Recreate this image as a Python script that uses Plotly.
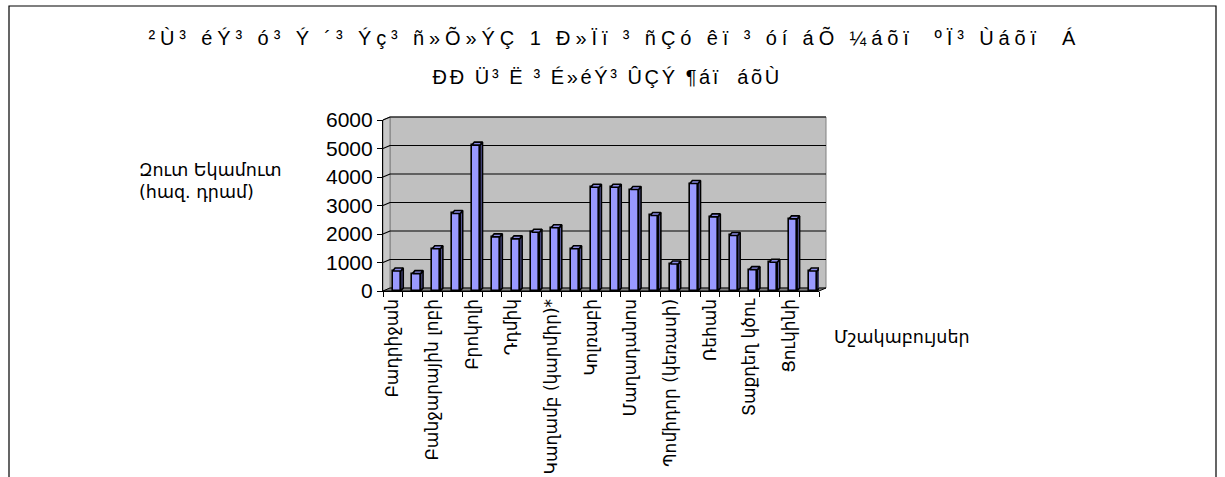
import plotly.graph_objects as go

# ---- data -------------------------------------------------------------
title_line1 = "²Ù³ éÝ³ ó³ Ý ´³ Ýç³ ñ»Õ»ÝÇ 1 Ð»Ïï ³ ñÇó êï ³ óí áÕ ¼áõï  ºÏ³ Ùáõï  Á"
title_line2 = "ÐÐ Ü³ Ë ³ É»éÝ³ ÛÇÝ ¶áï  áõÙ"
y_title = ["Զուտ Եկամուտ", "(հազ. դրամ)"]
x_title = "Մշակաբույսեր"

# every second crop carries a visible axis label
crop_labels = [
    "Բադրիջան", "Բանջարային լոբի", "Բրոկոլի", "Դդմիկ",
    "Կաղամբ (կարմիր)*", "Կոլռաբի", "Մաղադանոս", "Պոմիդոր (կեռասի)",
    "Ռեհան", "Տաքդեղ կծու", "Ցուկինի",
]
income = [700, 610, 1480, 2720, 5120, 1900, 1830, 2060, 2220, 1480, 3640,
          3640, 3560, 2650, 950, 3770, 2600, 1950, 750, 1010, 2530, 700]
y_ticks = [0, 1000, 2000, 3000, 4000, 5000, 6000]

# ---- geometry ---------------------------------------------------------
FW, FH = 1225, 477
L, R, T, B = 383, 406, 120, 186
PW, PH = FW - L - R, FH - T - B
n = len(income)
YMAX = 6000
px_x = PW / n          # pixels per category
px_y = PH / YMAX       # pixels per value unit

# 3-D look: wall depth and bar depth (pixels)
WALL_DX, WALL_DY = 7, 3
BAR_DX, BAR_DY = 2.5, 3
BAR_W = 0.41
BAR_SHIFT = 0.19

def px2paper_x(px):
    return (px - L) / PW

def px2paper_y(py):
    return (FH - B - py) / PH

def val_y(yv):
    return FH - B - yv * px_y

xs = [i + BAR_SHIFT for i in range(n)]
bdx = BAR_DX / px_x
bdy = BAR_DY / px_y

# side and top faces of each bar
side_x, side_y, top_x, top_y = [], [], [], []
for x, v in zip(xs, income):
    xl, xr = x - BAR_W / 2, x + BAR_W / 2
    side_x += [xr, xr + bdx, xr + bdx, xr, xr, None]
    side_y += [0, bdy, v + bdy, v, 0, None]
    top_x += [xl, xl + bdx, xr + bdx, xr, xl, None]
    top_y += [v, v + bdy, v + bdy, v, v, None]

fig = go.Figure()
fig.add_trace(go.Bar(
    x=xs, y=income, width=BAR_W,
    marker=dict(color="#9999FF", line=dict(color="black", width=1.6)),
    hoverinfo="skip",
))
fig.add_trace(go.Scatter(
    x=side_x, y=side_y, mode="lines", fill="toself", fillcolor="#5E5EA6",
    line=dict(color="black", width=1.6), hoverinfo="skip", cliponaxis=False,
))
fig.add_trace(go.Scatter(
    x=top_x, y=top_y, mode="lines", fill="toself", fillcolor="#8A8AE6",
    line=dict(color="black", width=1.6), hoverinfo="skip", cliponaxis=False,
))

# ---- walls, floor and grid -------------------------------------------
shapes = []
x_front_l, x_front_r = L, L + PW
y_front_0, y_front_top = val_y(0), val_y(YMAX)

def paper_path(points):
    return "M " + " L ".join(
        f"{px2paper_x(px):.5f},{px2paper_y(py):.5f}" for px, py in points) + " Z"

# back wall
shapes.append(dict(
    type="path", xref="paper", yref="paper", layer="below",
    path=paper_path([(x_front_l + WALL_DX, y_front_top - WALL_DY),
                     (x_front_r + WALL_DX, y_front_top - WALL_DY),
                     (x_front_r + WALL_DX, y_front_0 - WALL_DY),
                     (x_front_l + WALL_DX, y_front_0 - WALL_DY)]),
    fillcolor="#C0C0C0", line=dict(color="#808080", width=1),
))
# side wall
shapes.append(dict(
    type="path", xref="paper", yref="paper", layer="below",
    path=paper_path([(x_front_l, y_front_top),
                     (x_front_l + WALL_DX, y_front_top - WALL_DY),
                     (x_front_l + WALL_DX, y_front_0 - WALL_DY),
                     (x_front_l, y_front_0)]),
    fillcolor="#C8C8C8", line=dict(color="#808080", width=1),
))
# floor
shapes.append(dict(
    type="path", xref="paper", yref="paper", layer="below",
    path=paper_path([(x_front_l, y_front_0),
                     (x_front_r, y_front_0),
                     (x_front_r + WALL_DX, y_front_0 - WALL_DY),
                     (x_front_l + WALL_DX, y_front_0 - WALL_DY)]),
    fillcolor="#808080", line=dict(color="black", width=1),
))
# gridlines on side and back walls
for t in y_ticks[1:]:
    yy = val_y(t)
    shapes.append(dict(
        type="path", xref="paper", yref="paper", layer="below",
        path="M {:.5f},{:.5f} L {:.5f},{:.5f} L {:.5f},{:.5f}".format(
            px2paper_x(x_front_l), px2paper_y(yy),
            px2paper_x(x_front_l + WALL_DX), px2paper_y(yy - WALL_DY),
            px2paper_x(x_front_r + WALL_DX), px2paper_y(yy - WALL_DY)),
        line=dict(color="black", width=1.2),
    ))
# outer frame of the chart
shapes.append(dict(
    type="rect", xref="paper", yref="paper",
    x0=px2paper_x(9), x1=px2paper_x(1216),
    y0=px2paper_y(6), y1=px2paper_y(FH + 20),
    line=dict(color="black", width=1.2), fillcolor="rgba(0,0,0,0)",
))

# ---- text ------------------------------------------------------------
LATIN = "Liberation Sans, Arial, sans-serif"
ARM = "DejaVu Sans, Noto Sans, sans-serif"
annotations = [
    dict(text=title_line1, x=px2paper_x(614), y=px2paper_y(37),
         font=dict(family=LATIN, size=20, color="black")),
    dict(text=title_line2, x=px2paper_x(607), y=px2paper_y(77),
         font=dict(family=LATIN, size=20, color="black")),
    dict(text=y_title[0], x=px2paper_x(137), y=px2paper_y(170), xanchor="left",
         font=dict(family=ARM, size=17.5, color="black")),
    dict(text=y_title[1], x=px2paper_x(137), y=px2paper_y(192), xanchor="left",
         font=dict(family=ARM, size=17.5, color="black")),
    dict(text=x_title, x=px2paper_x(832), y=px2paper_y(337), xanchor="left",
         font=dict(family=ARM, size=17.5, color="black")),
]
for a in annotations:
    a.update(xref="paper", yref="paper", showarrow=False)
    a.setdefault("xanchor", "center")
    a["yanchor"] = "middle"

fig.update_layout(
    width=FW, height=FH,
    margin=dict(l=L, r=R, t=T, b=B, autoexpand=False),
    paper_bgcolor="white", plot_bgcolor="rgba(0,0,0,0)",
    showlegend=False, bargap=0,
    shapes=shapes, annotations=annotations,
    xaxis=dict(
        range=[-0.5, n - 0.5], showgrid=False, zeroline=False, automargin=False,
        showline=True, linecolor="black", linewidth=1.2,
        tickmode="array", tickvals=list(range(0, n, 2)), ticktext=crop_labels,
        ticks="", tickangle=-90,
        tickfont=dict(family=ARM, size=17, color="black"),
        minor=dict(tickmode="array", tickvals=[i - 0.5 for i in range(n + 1)],
                   ticks="outside", ticklen=5, tickcolor="black", tickwidth=1,
                   showgrid=False),
    ),
    yaxis=dict(
        range=[0, YMAX], showgrid=False, zeroline=False, automargin=False,
        showline=True, linecolor="black", linewidth=1.2,
        tickmode="array", tickvals=y_ticks,
        ticks="outside", ticklen=5, tickcolor="black",
        tickfont=dict(family=LATIN, size=21, color="black"),
    ),
)

# wider character spacing for the two title lines
title_spacing_js = """
var gd = document.getElementById('{plot_id}');
function spaceTitle() {
  var t = gd.querySelectorAll('g.annotation text.annotation-text');
  if (t.length > 1) {
    t[0].style.letterSpacing = '4.9px';
    t[1].style.letterSpacing = '2.6px';
  }
}
spaceTitle();
gd.on('plotly_afterplot', spaceTitle);
"""

fig.write_html("out.html", post_script=title_spacing_js)
